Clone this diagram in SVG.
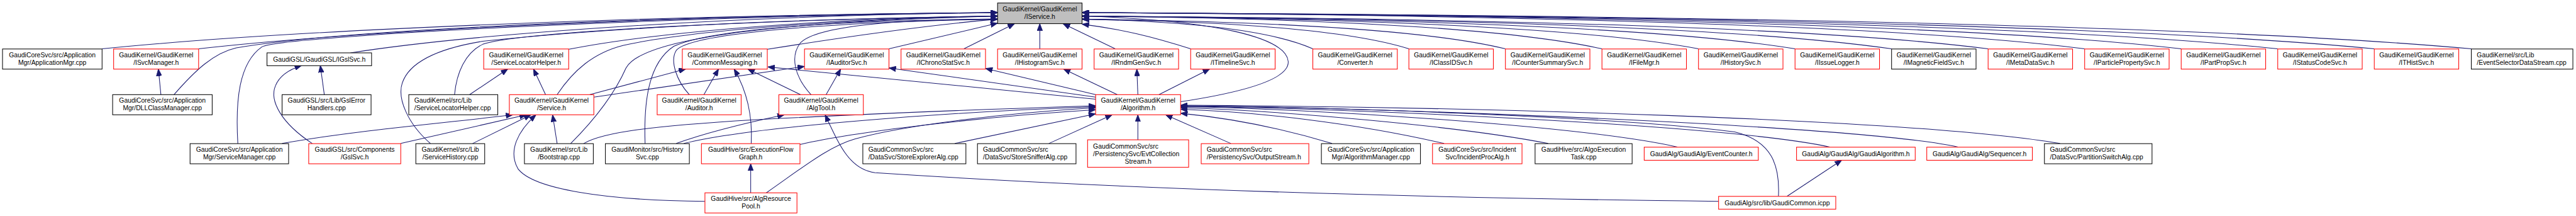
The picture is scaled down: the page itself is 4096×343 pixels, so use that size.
<svg xmlns="http://www.w3.org/2000/svg" width="4096" height="343" viewBox="0 0 4096 343">
<defs>
<style>
.n rect{fill:#fff;stroke-width:1.3}
.r rect{stroke:#ff0000}
.k rect{stroke:#000}
.g rect{fill:#bfbfbf;stroke:#000}
text{font-family:"Liberation Sans",Arial,Helvetica,sans-serif;font-size:13px;fill:#000}
.c text{text-anchor:middle}
.e path{fill:none;stroke:#191970;stroke-width:1.3;marker-end:url(#a)}
</style>
<marker id="a" markerUnits="userSpaceOnUse" markerWidth="14" markerHeight="11" refX="13" refY="5" orient="auto" viewBox="0 0 13 10"><path d="M0,0 L13,5 L0,10 z" fill="#191970" stroke="#191970" stroke-width="1"/></marker>
</defs>
<rect width="4096" height="343" fill="#fff"/>
<g transform="scale(0.7995)">
<g id="connectors" class="e">
<path d="M203,97 C559,61 1272,30 1984,25"/>
<path d="M395,97 C713,61 1348,30 1984,25"/>
<path d="M346,188 C388,140 425,105 470,95 C700,55 1400,30 1984,25"/>
<path d="M473,285 C468,200 475,125 521,93 C560,72 1300,33 1984,25"/>
<path d="M697,105 C954,65 1469,31 1984,25"/>
<path d="M904,188 C908,145 925,105 960,88 C1020,65 1500,38 1984,32"/>
<path d="M856,285 C810,245 790,195 800,165 C815,120 880,95 960,82 C1300,45 1800,34 1984,32"/>
<path d="M1131,98 C1302,64 1643,36 1984,32"/>
<path d="M1108,188 C1140,140 1180,105 1240,90 C1400,55 1750,36 1984,32"/>
<path d="M1135,285 C1190,230 1225,180 1245,135 C1275,80 1500,45 1984,32"/>
<path d="M1283,285 C1280,200 1290,125 1340,92 C1420,55 1700,40 1984,38"/>
<path d="M1371,188 C1345,160 1332,120 1345,100 C1370,70 1600,45 1984,38"/>
<path d="M1613,188 C1578,150 1572,110 1592,85 C1625,52 1780,38 1984,38"/>
<path d="M1526,98 C1650,78 1820,52 1984,38"/>
<path d="M1768,97 L1984,46"/>
<path d="M1917,97 L2018,47"/>
<path d="M2068,97 L2068,47"/>
<path d="M2218,97 L2114,47"/>
<path d="M2368,97 C2290,72 2230,58 2152,48"/>
<path d="M2611,97 C2519,56 2336,42 2152,38"/>
<path d="M2802,97 C2672,56 2412,42 2152,38"/>
<path d="M2994,97 C2826,56 2489,42 2152,38"/>
<path d="M3186,97 C2979,51 2566,36 2152,32"/>
<path d="M3378,97 C3133,51 2642,36 2152,32"/>
<path d="M3570,97 C3286,51 2719,36 2152,32"/>
<path d="M3762,97 C3440,51 2796,36 2152,32"/>
<path d="M3954,97 C3594,51 2873,36 2152,32"/>
<path d="M4146,97 C3747,47 2950,30 2152,25"/>
<path d="M4338,97 C3901,47 3026,30 2152,25"/>
<path d="M4530,97 C4054,47 3103,30 2152,25"/>
<path d="M4722,97 C4208,47 3180,30 2152,25"/>
<path d="M4915,97 C4362,47 3257,30 2152,25"/>
<path d="M2348,202 C2460,185 2565,160 2562,122 C2558,75 2420,40 2152,32"/>
<path d="M320,188 L315,137"/>
<path d="M645,188 L637,130"/>
<path d="M621,285 C560,245 535,200 548,170 C556,150 575,138 600,130"/>
<path d="M561,285 C700,260 880,245 1020,228"/>
<path d="M797,285 L1047,228"/>
<path d="M934,188 L1010,137"/>
<path d="M1085,188 L1061,137"/>
<path d="M1173,188 L1364,137"/>
<path d="M1181,193 L1600,132"/>
<path d="M940,285 L1056,228"/>
<path d="M1108,285 L1099,228"/>
<path d="M1402,400 C1200,398 1060,375 1030,335 C1010,300 1030,260 1066,228"/>
<path d="M1400,188 L1429,137"/>
<path d="M1494,285 C1497,230 1485,180 1460,137"/>
<path d="M1592,188 L1487,137"/>
<path d="M1643,188 L1672,137"/>
<path d="M2179,197 L1527,133"/>
<path d="M2179,193 L1768,135"/>
<path d="M2179,188 L1960,136"/>
<path d="M2222,188 L2115,137"/>
<path d="M2263,188 L2261,137"/>
<path d="M2305,188 L2406,137"/>
<path d="M1345,285 C1400,265 1480,245 1560,228"/>
<path d="M1360,285 C1500,250 1900,222 2179,212"/>
<path d="M1161,285 C1200,262 1300,250 1500,238 C1800,222 2050,214 2179,210"/>
<path d="M1591,287 C1700,262 1950,232 2179,218"/>
<path d="M1524,383 C1600,330 1650,290 1700,276 C1800,248 2000,225 2179,214"/>
<path d="M1493,383 L1493,325"/>
<path d="M1899,285 L2179,226"/>
<path d="M2086,285 L2212,228"/>
<path d="M2263,278 L2263,228"/>
<path d="M2448,285 L2318,228"/>
<path d="M2649,285 C2550,255 2450,235 2348,225"/>
<path d="M2872,285 C2700,245 2500,222 2348,217"/>
<path d="M3079,285 C2900,250 2550,220 2348,214"/>
<path d="M3336,292 C3150,250 2600,215 2348,212"/>
<path d="M3639,292 C3450,250 2700,215 2348,211"/>
<path d="M3894,292 C3700,250 2800,215 2348,210"/>
<path d="M4097,285 C3800,235 2900,212 2348,209"/>
<path d="M3537,390 C3540,330 3525,280 3450,262 C3200,230 2600,212 2348,210"/>
<path d="M3554,390 L3663,318"/>
<path d="M3418,400 C2900,394 2300,380 1740,343 C1690,336 1670,290 1641,228"/>
</g>
<g id="n_iservice" class="n g c"><rect x="1984" y="6" width="168" height="41"/><text x="2068" y="22">GaudiKernel/GaudiKernel</text><text x="2068" y="37">/IService.h</text></g>
<g id="n_appmgr" class="n k c"><rect x="5" y="97.3" width="198" height="40"/><text x="104" y="113.3">GaudiCoreSvc/src/Application</text><text x="104" y="128.3">Mgr/ApplicationMgr.cpp</text></g>
<g id="n_isvcmgr" class="n r c"><rect x="226" y="97.3" width="169" height="40"/><text x="310.5" y="113.3">GaudiKernel/GaudiKernel</text><text x="310.5" y="128.3">/ISvcManager.h</text></g>
<g id="n_igslsvc" class="n k c"><rect x="531" y="105" width="208" height="25.5"/><text x="635" y="122.4">GaudiGSL/GaudiGSL/IGslSvc.h</text></g>
<g id="n_slh_h" class="n r c"><rect x="962" y="97.3" width="169" height="40"/><text x="1046.5" y="113.3">GaudiKernel/GaudiKernel</text><text x="1046.5" y="128.3">/ServiceLocatorHelper.h</text></g>
<g id="n_commsg" class="n r c"><rect x="1357" y="97.3" width="169" height="40"/><text x="1441.5" y="113.3">GaudiKernel/GaudiKernel</text><text x="1441.5" y="128.3">/CommonMessaging.h</text></g>
<g id="n_iaud" class="n r c"><rect x="1600" y="97.3" width="168" height="40"/><text x="1684" y="113.3">GaudiKernel/GaudiKernel</text><text x="1684" y="128.3">/IAuditorSvc.h</text></g>
<g id="n_ichrono" class="n r c"><rect x="1792" y="97.3" width="168" height="40"/><text x="1876" y="113.3">GaudiKernel/GaudiKernel</text><text x="1876" y="128.3">/IChronoStatSvc.h</text></g>
<g id="n_ihisto" class="n r c"><rect x="1984" y="97.3" width="168" height="40"/><text x="2068" y="113.3">GaudiKernel/GaudiKernel</text><text x="2068" y="128.3">/IHistogramSvc.h</text></g>
<g id="n_irndm" class="n r c"><rect x="2176" y="97.3" width="168" height="40"/><text x="2260" y="113.3">GaudiKernel/GaudiKernel</text><text x="2260" y="128.3">/IRndmGenSvc.h</text></g>
<g id="n_itimeline" class="n r c"><rect x="2368" y="97.3" width="168" height="40"/><text x="2452" y="113.3">GaudiKernel/GaudiKernel</text><text x="2452" y="128.3">/ITimelineSvc.h</text></g>
<g id="n_converter" class="n r c"><rect x="2611" y="97.3" width="168" height="40"/><text x="2695" y="113.3">GaudiKernel/GaudiKernel</text><text x="2695" y="128.3">/Converter.h</text></g>
<g id="n_iclassid" class="n r c"><rect x="2802" y="97.3" width="168" height="40"/><text x="2886" y="113.3">GaudiKernel/GaudiKernel</text><text x="2886" y="128.3">/IClassIDSvc.h</text></g>
<g id="n_icounter" class="n r c"><rect x="2994" y="97.3" width="168" height="40"/><text x="3078" y="113.3">GaudiKernel/GaudiKernel</text><text x="3078" y="128.3">/ICounterSummarySvc.h</text></g>
<g id="n_ifilemgr" class="n r c"><rect x="3186" y="97.3" width="168" height="40"/><text x="3270" y="113.3">GaudiKernel/GaudiKernel</text><text x="3270" y="128.3">/IFileMgr.h</text></g>
<g id="n_ihistsvc" class="n r c"><rect x="3378" y="97.3" width="168" height="40"/><text x="3462" y="113.3">GaudiKernel/GaudiKernel</text><text x="3462" y="128.3">/IHistorySvc.h</text></g>
<g id="n_iissue" class="n r c"><rect x="3570" y="97.3" width="168" height="40"/><text x="3654" y="113.3">GaudiKernel/GaudiKernel</text><text x="3654" y="128.3">/IIssueLogger.h</text></g>
<g id="n_imagnetic" class="n k c"><rect x="3762" y="97.3" width="168" height="40"/><text x="3846" y="113.3">GaudiKernel/GaudiKernel</text><text x="3846" y="128.3">/IMagneticFieldSvc.h</text></g>
<g id="n_imeta" class="n r c"><rect x="3954" y="97.3" width="168" height="40"/><text x="4038" y="113.3">GaudiKernel/GaudiKernel</text><text x="4038" y="128.3">/IMetaDataSvc.h</text></g>
<g id="n_iparticle" class="n r c"><rect x="4146" y="97.3" width="168" height="40"/><text x="4230" y="113.3">GaudiKernel/GaudiKernel</text><text x="4230" y="128.3">/IParticlePropertySvc.h</text></g>
<g id="n_ipartprop" class="n r c"><rect x="4338" y="97.3" width="168" height="40"/><text x="4422" y="113.3">GaudiKernel/GaudiKernel</text><text x="4422" y="128.3">/IPartPropSvc.h</text></g>
<g id="n_istatus" class="n r c"><rect x="4530" y="97.3" width="168" height="40"/><text x="4614" y="113.3">GaudiKernel/GaudiKernel</text><text x="4614" y="128.3">/IStatusCodeSvc.h</text></g>
<g id="n_ithist" class="n r c"><rect x="4722" y="97.3" width="168" height="40"/><text x="4806" y="113.3">GaudiKernel/GaudiKernel</text><text x="4806" y="128.3">/ITHistSvc.h</text></g>
<g id="n_evsel" class="n k"><rect x="4915" y="97.3" width="202" height="40"/><text x="4926" y="113.3">GaudiKernel/src/Lib</text><text x="4926" y="128.3">/EventSelectorDataStream.cpp</text></g>
<g id="n_dll" class="n k c"><rect x="224" y="188" width="198" height="40"/><text x="323" y="204">GaudiCoreSvc/src/Application</text><text x="323" y="219">Mgr/DLLClassManager.cpp</text></g>
<g id="n_gslerr" class="n k c"><rect x="561" y="188" width="177" height="40"/><text x="649.5" y="204">GaudiGSL/src/Lib/GslError</text><text x="649.5" y="219">Handlers.cpp</text></g>
<g id="n_slh_cpp" class="n k"><rect x="813" y="188" width="177" height="40"/><text x="824" y="204">GaudiKernel/src/Lib</text><text x="824" y="219">/ServiceLocatorHelper.cpp</text></g>
<g id="n_service" class="n r c"><rect x="1013" y="188" width="168" height="40"/><text x="1097" y="204">GaudiKernel/GaudiKernel</text><text x="1097" y="219">/Service.h</text></g>
<g id="n_auditor" class="n r c"><rect x="1307" y="188" width="167" height="40"/><text x="1390.5" y="204">GaudiKernel/GaudiKernel</text><text x="1390.5" y="219">/Auditor.h</text></g>
<g id="n_algtool" class="n r c"><rect x="1549" y="188" width="168" height="40"/><text x="1633" y="204">GaudiKernel/GaudiKernel</text><text x="1633" y="219">/AlgTool.h</text></g>
<g id="n_algorithm" class="n r c"><rect x="2179" y="188" width="169" height="40"/><text x="2263.5" y="204">GaudiKernel/GaudiKernel</text><text x="2263.5" y="219">/Algorithm.h</text></g>
<g id="n_svcmgr" class="n k c"><rect x="378" y="285.3" width="196" height="40"/><text x="476" y="301.3">GaudiCoreSvc/src/Application</text><text x="476" y="316.3">Mgr/ServiceManager.cpp</text></g>
<g id="n_gslsvc" class="n r c"><rect x="614" y="285.3" width="183" height="40"/><text x="705.5" y="301.3">GaudiGSL/src/Components</text><text x="705.5" y="316.3">/GslSvc.h</text></g>
<g id="n_svchist" class="n k c"><rect x="827" y="285.3" width="137" height="40"/><text x="895.5" y="301.3">GaudiKernel/src/Lib</text><text x="895.5" y="316.3">/ServiceHistory.cpp</text></g>
<g id="n_bootstrap" class="n k c"><rect x="1043" y="285.3" width="137" height="40"/><text x="1111.5" y="301.3">GaudiKernel/src/Lib</text><text x="1111.5" y="316.3">/Bootstrap.cpp</text></g>
<g id="n_histsvc" class="n k c"><rect x="1204" y="285.3" width="167" height="40"/><text x="1287.5" y="301.3">GaudiMonitor/src/History</text><text x="1287.5" y="316.3">Svc.cpp</text></g>
<g id="n_exec" class="n r c"><rect x="1395" y="285.3" width="196" height="40"/><text x="1493" y="301.3">GaudiHive/src/ExecutionFlow</text><text x="1493" y="316.3">Graph.h</text></g>
<g id="n_storeexp" class="n k"><rect x="1716" y="285.3" width="205" height="40"/><text x="1727" y="301.3">GaudiCommonSvc/src</text><text x="1727" y="316.3">/DataSvc/StoreExplorerAlg.cpp</text></g>
<g id="n_storesniff" class="n k"><rect x="1944" y="285.3" width="196" height="40"/><text x="1955" y="301.3">GaudiCommonSvc/src</text><text x="1955" y="316.3">/DataSvc/StoreSnifferAlg.cpp</text></g>
<g id="n_evtcoll" class="n r"><rect x="2163" y="277.7" width="201" height="54.6"/><text x="2174" y="294.6">GaudiCommonSvc/src</text><text x="2174" y="309.6">/PersistencySvc/EvtCollection</text><text x="2263.5" y="324.6" text-anchor="middle">Stream.h</text></g>
<g id="n_outstream" class="n r"><rect x="2389" y="285.3" width="214" height="40"/><text x="2400" y="301.3">GaudiCommonSvc/src</text><text x="2400" y="316.3">/PersistencySvc/OutputStream.h</text></g>
<g id="n_algmgr" class="n k c"><rect x="2628" y="285.3" width="197" height="40"/><text x="2726.5" y="301.3">GaudiCoreSvc/src/Application</text><text x="2726.5" y="316.3">Mgr/AlgorithmManager.cpp</text></g>
<g id="n_incident" class="n r c"><rect x="2849" y="285.3" width="178" height="40"/><text x="2938" y="301.3">GaudiCoreSvc/src/Incident</text><text x="2938" y="316.3">Svc/IncidentProcAlg.h</text></g>
<g id="n_algoexec" class="n k c"><rect x="3053" y="285.3" width="193" height="40"/><text x="3149.5" y="301.3">GaudiHive/src/AlgoExecution</text><text x="3149.5" y="316.3">Task.cpp</text></g>
<g id="n_evcounter" class="n r c"><rect x="3270" y="292.3" width="227" height="26"/><text x="3383.5" y="309.9">GaudiAlg/GaudiAlg/EventCounter.h</text></g>
<g id="n_gaudialg" class="n r c"><rect x="3573" y="292.3" width="236" height="26"/><text x="3691" y="309.9">GaudiAlg/GaudiAlg/GaudiAlgorithm.h</text></g>
<g id="n_sequencer" class="n r c"><rect x="3832" y="292.3" width="210" height="26"/><text x="3937" y="309.9">GaudiAlg/GaudiAlg/Sequencer.h</text></g>
<g id="n_partition" class="n k"><rect x="4066" y="285.3" width="214" height="40"/><text x="4077" y="301.3">GaudiCommonSvc/src</text><text x="4077" y="316.3">/DataSvc/PartitionSwitchAlg.cpp</text></g>
<g id="n_pool" class="n r c"><rect x="1402" y="383" width="183" height="40"/><text x="1493.5" y="399">GaudiHive/src/AlgResource</text><text x="1493.5" y="414">Pool.h</text></g>
<g id="n_common" class="n r c"><rect x="3418" y="390" width="233" height="25.5"/><text x="3534.5" y="407.3">GaudiAlg/src/lib/GaudiCommon.icpp</text></g>
</g>
</svg>
